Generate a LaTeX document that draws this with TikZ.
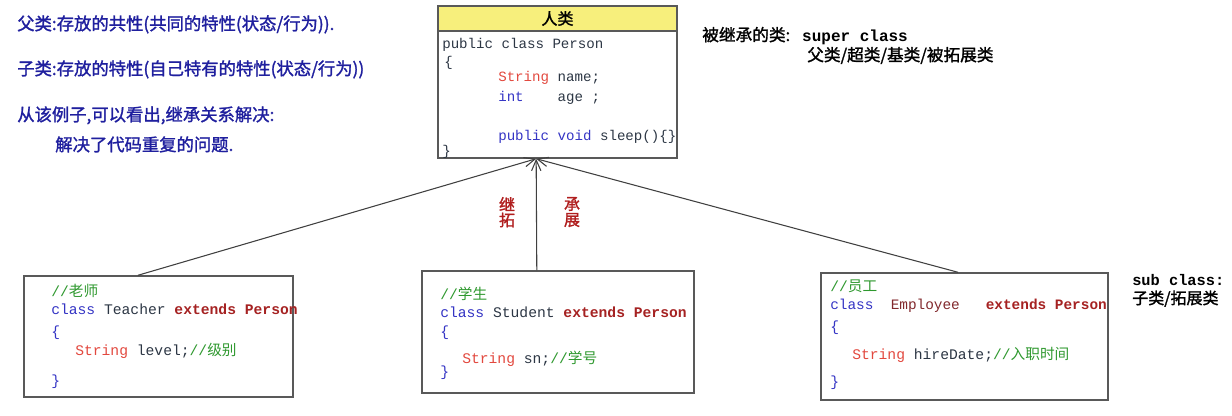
\documentclass[tikz,border=0pt]{standalone}
\usepackage{fontspec}
\setmonofont{Liberation Mono}
\newfontfamily\cjk{Noto Sans CJK SC}
\newfontfamily\cjkb{Noto Sans CJK SC}[FakeBold=1.5]
\usetikzlibrary{arrows.meta,fit}

\definecolor{noteblue}{HTML}{1F1F9E}
\definecolor{kwblue}{HTML}{3434C4}
\definecolor{strred}{HTML}{E2483E}
\definecolor{cmtgreen}{HTML}{2E982E}
\definecolor{extred}{HTML}{A52222}
\definecolor{idgray}{HTML}{2C3644}
\definecolor{headyellow}{HTML}{F7EF7C}
\definecolor{labred}{HTML}{B01E1E}

\begin{document}
\begin{tikzpicture}[x=0.75pt, y=-0.75pt,
    classbox/.style={rectangle, draw=black!65, line width=1.1pt, inner sep=0pt},
    note/.style={anchor=base west, inner sep=0pt, text=noteblue, font=\cjkb\fontsize{13}{15}\selectfont},
    tag/.style={anchor=base west, inner sep=0pt, text=black, font=\cjkb\fontsize{12.5}{14}\selectfont},
    code/.style={anchor=base west, inner sep=0pt, text=idgray, font=\ttfamily\fontsize{11}{13}\selectfont},
    supercode/.style={code, font=\ttfamily\fontsize{10.6}{13}\selectfont},
    lab/.style={inner sep=0pt, text=labred, font=\cjkb\fontsize{12}{14}\selectfont},
    arrow/.style={-{Straight Barb[length=8pt,width=7pt]}, draw=black!75, line width=0.8pt}
]
\useasboundingbox (0,0) rectangle (1232,415);

% Notes on the left
\node[note] (parentnote) at (17,30) {父类:存放的共性(共同的特性(状态/行为)).};
\node[note] (childnote) at (17,75) {子类:存放的特性(自己特有的特性(状态/行为))};
\node[note] (examplenote) at (17,121) {从该例子,可以看出,继承关系解决:};
\node[note] (solvenote) at (55,151) {解决了代码重复的问题.};

% Super class
\node[classbox, fill=headyellow, fit={(438,6) (677,31)}] (personhead) {};
\node[inner sep=0pt, font=\cjkb\fontsize{12}{14}\selectfont] (persontitle) at (personhead.center) {人类};
\node[classbox, fit={(438,31) (677,158)}] (person) {};
\node[supercode] (p1) at (442,48) {public class Person};
\node[supercode] (p2) at (444,66) {\{};
\node[supercode] (p3) at (498,81) {\textcolor{strred}{String} name;};
\node[supercode] (p4) at (498,101) {\textcolor{kwblue}{int}\ \ \ \ age ;};
\node[supercode] (p5) at (498,140) {\textcolor{kwblue}{public void} sleep()\{\}};
\node[supercode] (p6) at (442,155) {\}};

\node[tag] (supertag) at (702,41) {被继承的类:\hspace{9pt}{\ttfamily\bfseries\fontsize{12}{14}\selectfont super class}};
\node[tag] (supernames) at (807,61) {父类/超类/基类/被拓展类};

% Teacher
\node[classbox, fit={(24,276) (293,397)}] (teacher) {};
\node[code, text=cmtgreen] (t1) at (51,296) {//{\cjk 老师}};
\node[code] (t2) at (51,314) {\textcolor{kwblue}{class} Teacher \textcolor{extred}{\bfseries extends Person}};
\node[code, text=kwblue] (t3) at (51,336) {\{};
\node[code] (t4) at (75,355) {\textcolor{strred}{String} level;\textcolor{cmtgreen}{//{\cjk 级别}}};
\node[code, text=kwblue] (t5) at (51,385) {\}};

% Student
\node[classbox, fit={(422,271) (694,393)}] (student) {};
\node[code, text=cmtgreen] (s1) at (440,299) {//{\cjk 学生}};
\node[code] (s2) at (440,317) {\textcolor{kwblue}{class} Student \textcolor{extred}{\bfseries extends Person}};
\node[code, text=kwblue] (s3) at (440,336) {\{};
\node[code] (s4) at (462,363) {\textcolor{strred}{String} sn;\textcolor{cmtgreen}{//{\cjk 学号}}};
\node[code, text=kwblue] (s5) at (440,376) {\}};

% Employee
\node[classbox, fit={(821,273) (1108,400)}] (employee) {};
\node[code, text=cmtgreen] (e1) at (830,291) {//{\cjk 员工}};
\node[code, font=\ttfamily\fontsize{10.8}{13}\selectfont] (e2) at (830,309) {\textcolor{kwblue}{class}\ \ \textcolor{extred!70!idgray}{Employee}\ \ \ \textcolor{extred}{\bfseries extends Person}};
\node[code, text=kwblue] (e3) at (830,331) {\{};
\node[code] (e4) at (852,359) {\textcolor{strred}{String} hireDate;\textcolor{cmtgreen}{//{\cjk 入职时间}}};
\node[code, text=kwblue] (e5) at (830,386) {\}};

\node[tag, font=\ttfamily\bfseries\fontsize{11.5}{13}\selectfont] (subtag) at (1132,285) {sub class:};
\node[tag, font=\cjkb\fontsize{12}{14}\selectfont] (subnames) at (1132,304) {子类/拓展类};

% Arrows
\draw[arrow] ([xshift=-15.4pt]teacher.north) -- ([xshift=-16pt]person.south);
\draw[arrow] ([xshift=-15.9pt]student.north) -- ([xshift=-16pt]person.south);
\draw[arrow] ([xshift=-4.9pt]employee.north) -- ([xshift=-16pt]person.south);

% Labels
\node[lab] (ji) at (507,204) {继};
\node[lab] (tuo) at (507,220) {拓};
\node[lab] (cheng) at (572,204) {承};
\node[lab] (zhan) at (572,220) {展};

\end{tikzpicture}
\end{document}
